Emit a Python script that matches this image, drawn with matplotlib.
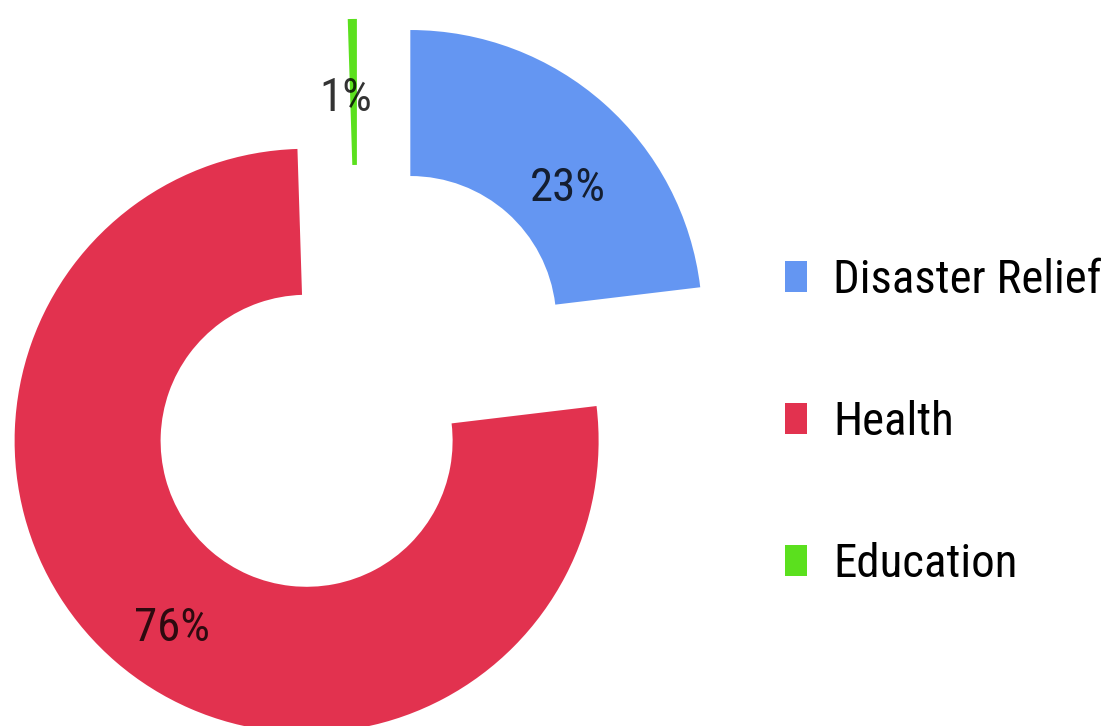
import numpy as np
import matplotlib
matplotlib.use("Agg")
import matplotlib.pyplot as plt
from matplotlib import font_manager

# pick a narrow face if one is installed, otherwise plain Liberation Sans
installed = {f.name for f in font_manager.fontManager.ttflist}
narrow = [n for n in ["Liberation Sans Narrow", "Roboto Condensed", "Open Sans Condensed",
                      "DejaVu Sans Condensed"] if n in installed]
plt.rcParams["font.family"] = narrow[:1] + ["Liberation Sans", "DejaVu Sans"]

# data
categories = ["Disaster Relief", "Health", "Education"]
shares = [23.1, 76.4, 0.5]
pct_labels = ["23%", "76%", "1%"]
colors = ["#6496F2", "#E2324F", "#5BE01E"]

# layout (pixels of the 1107x726 image)
W, H = 1107, 726
cx, cy, scale = 358, 381, 292
explode = [0.27, 0.27, 0.24]
label_radius = [0.71, 0.79, 0.73]
label_turn = [-8, 5, 2]

fig = plt.figure(figsize=(W / 100, H / 100), dpi=100)
ax = fig.add_axes([0, 0, 1, 1])

# font size chosen so "Disaster Relief" is about 269 px wide, as in the reference
probe = fig.text(0, 0, categories[0], fontsize=30)
width = probe.get_window_extent(fig.canvas.get_renderer()).width
probe.remove()
fs = 30 * 269 / width
em = fs * 100 / 72

wedges, _ = ax.pie(shares, colors=colors, startangle=90, counterclock=False,
                   explode=explode, radius=1.0,
                   wedgeprops=dict(width=0.5, linewidth=0))

for w, txt, rho, turn in zip(wedges, pct_labels, label_radius, label_turn):
    mid = np.deg2rad((w.theta1 + w.theta2) / 2 + turn)
    x0, y0 = w.center
    ax.text(x0 + rho * np.cos(mid), y0 + rho * np.sin(mid), txt,
            ha="center", va="center", fontsize=fs, color="black", alpha=0.8)

ax.set_xlim(-cx / scale, (W - cx) / scale)
ax.set_ylim(-(H - cy) / scale, cy / scale)
ax.set_aspect("equal")
ax.axis("off")

ax.legend(wedges, categories, loc="center left",
          bbox_to_anchor=(785 / W, 1 - 422 / H), bbox_transform=fig.transFigure,
          frameon=False, fontsize=fs, handlelength=22 / em, handleheight=0.65,
          handletextpad=26 / em, labelspacing=98 / em,
          borderpad=0, borderaxespad=0)

fig.savefig("out.png", dpi=100)
